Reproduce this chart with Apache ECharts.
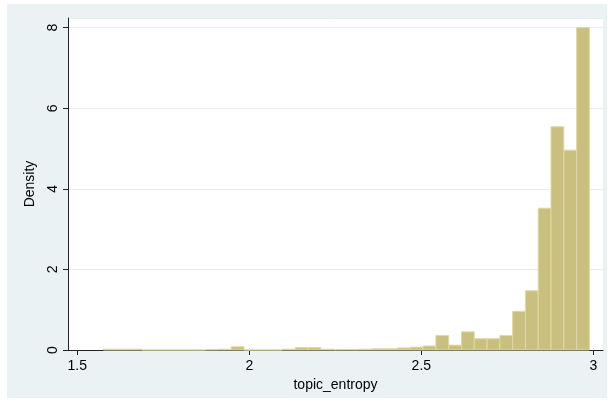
<!DOCTYPE html>
<html>
<head>
<meta charset="utf-8">
<script src="https://cdn.jsdelivr.net/npm/echarts@6/dist/echarts.min.js"></script>
<style>
  html, body { margin: 0; padding: 0; background: #fff; }
  #main { width: 608px; height: 402px; }
</style>
</head>
<body>
<div id="main"></div>
<script>
// histogram of topic_entropy (density)
var binStart = 1.5756;
var binWidth = 0.03718;
var densities = [
    0.02, 0.02, 0.02, 0, 0, 0, 0, 0, 0.01, 0.02,
    0.08, 0, 0, 0, 0.02, 0.06, 0.06, 0.02, 0.01, 0.01,
    0.02, 0.03, 0.03, 0.05, 0.07, 0.1, 0.36, 0.12, 0.45, 0.28,
    0.28, 0.36, 0.96, 1.47, 3.52, 5.54, 4.96, 8.0
];
var xTicks = [1.5, 2, 2.5, 3];
var yTicks = [0, 2, 4, 6, 8];

var bins = densities.map(function (d, i) {
    var x0 = binStart + i * binWidth;
    return [x0, x0 + binWidth, d];
});

(function () {
    var myChart = echarts.init(document.getElementById('main'));
    var font = 'Liberation Sans, Arial, sans-serif';
    var option = {
        backgroundColor: '#ffffff',
        animation: false,
        graphic: [{
            type: 'rect',
            z: -10,
            shape: { x: 7, y: 4, width: 600, height: 394 },
            style: { fill: '#eaf2f3' }
        }],
        grid: {
            left: 68, right: 5, top: 18, bottom: 52,
            show: true,
            backgroundColor: '#ffffff',
            borderWidth: 0
        },
        xAxis: {
            type: 'value',
            min: 1.473,
            max: 3.028,
            name: 'topic_entropy',
            nameLocation: 'middle',
            nameGap: 22,
            nameTextStyle: { color: '#000', fontSize: 14, fontFamily: font },
            axisLine: { lineStyle: { color: '#222', width: 1 } },
            axisTick: { show: true, customValues: xTicks, length: 5, lineStyle: { color: '#222' } },
            axisLabel: { customValues: xTicks, color: '#000', fontSize: 14, fontFamily: font, margin: 9 },
            splitLine: { show: false }
        },
        yAxis: {
            type: 'value',
            min: 0,
            max: 8.24,
            interval: 2,
            name: 'Density',
            nameLocation: 'middle',
            nameGap: 31,
            nameTextStyle: { color: '#000', fontSize: 14, fontFamily: font },
            axisLine: { show: true, lineStyle: { color: '#222', width: 1 } },
            axisTick: { show: true, length: 5, lineStyle: { color: '#222' } },
            axisLabel: { rotate: 90, color: '#000', fontSize: 14, fontFamily: font, margin: 8 },
            splitLine: { show: true, lineStyle: { color: '#e6eef0', width: 1 } }
        },
        series: [{
            type: 'custom',
            data: bins,
            encode: { x: [0, 1], y: 2 },
            renderItem: function (params, api) {
                var p0 = api.coord([api.value(0), api.value(2)]);
                var p1 = api.coord([api.value(1), 0]);
                return {
                    type: 'rect',
                    shape: { x: p0[0], y: p0[1], width: p1[0] - p0[0], height: p1[1] - p0[1] },
                    style: { fill: '#c9c07f', stroke: '#ddd7a9', lineWidth: 1 }
                };
            }
        }]
    };
    myChart.setOption(option);
})();
</script>
</body>
</html>
